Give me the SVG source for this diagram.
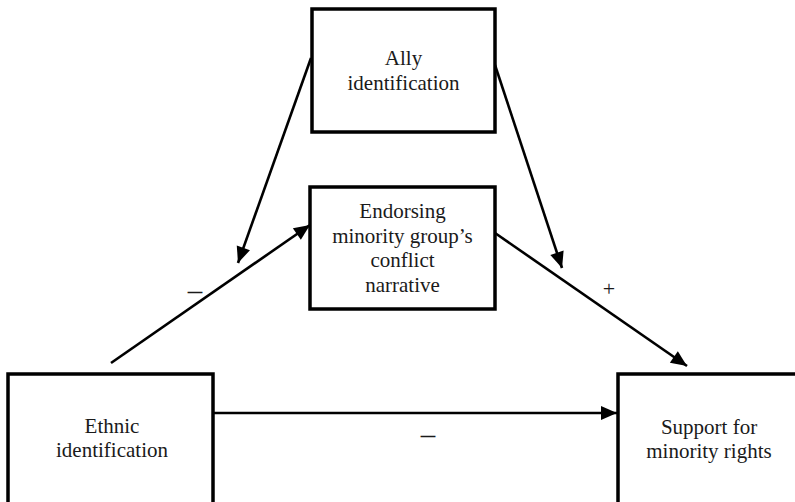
<svg xmlns="http://www.w3.org/2000/svg" width="795" height="502" viewBox="0 0 795 502">
<defs>
<style>
.box{fill:#fff;stroke:#000;stroke-width:3.5}
.t{font-family:"Liberation Serif","Times New Roman",serif;font-size:21px;fill:#1a1a1a;text-anchor:middle}
.lbl{font-family:"Liberation Serif","Times New Roman",serif;font-size:22px;fill:#1a1a1a;text-anchor:middle}
.dash{font-size:29px}
.c{stroke:#000;stroke-width:2.6;fill:none;marker-end:url(#ah)}
</style>
<marker id="ah" markerUnits="userSpaceOnUse" markerWidth="20" markerHeight="20" viewBox="0 0 20 20" refX="18" refY="10" orient="auto">
<path d="M2,3 L18,10 L2,17 Z" fill="#000"/>
</marker>
</defs>
<rect width="795" height="502" fill="#fff"/>
<g id="connectors">
<line class="c" x1="111" y1="363" x2="310" y2="225"/>
<line class="c" x1="311" y1="58" x2="238" y2="263"/>
<line class="c" x1="495" y1="65" x2="562" y2="268"/>
<line class="c" x1="495" y1="233" x2="687" y2="366"/>
<line class="c" x1="213" y1="413" x2="617" y2="413"/>
<text class="lbl dash" x="195" y="300">–</text>
<text class="lbl" x="609" y="296">+</text>
<text class="lbl dash" x="428" y="444">–</text>
</g>
<g id="ally">
<rect class="box" x="312" y="9" width="183" height="123"/>
<text class="t" x="403.5" y="65">Ally</text>
<text class="t" x="403.5" y="90">identification</text>
</g>
<g id="endorsing">
<rect class="box" x="310" y="187" width="185" height="122"/>
<text class="t" x="402.5" y="218">Endorsing</text>
<text class="t" x="402.5" y="243">minority group’s</text>
<text class="t" x="402.5" y="267">conflict</text>
<text class="t" x="402.5" y="292">narrative</text>
</g>
<g id="ethnic">
<rect class="box" x="8" y="374" width="205" height="132"/>
<text class="t" x="112" y="433">Ethnic</text>
<text class="t" x="112" y="457">identification</text>
</g>
<g id="support">
<rect class="box" x="618" y="374" width="190" height="132"/>
<text class="t" x="709" y="434">Support for</text>
<text class="t" x="709" y="458">minority rights</text>
</g>
</svg>
